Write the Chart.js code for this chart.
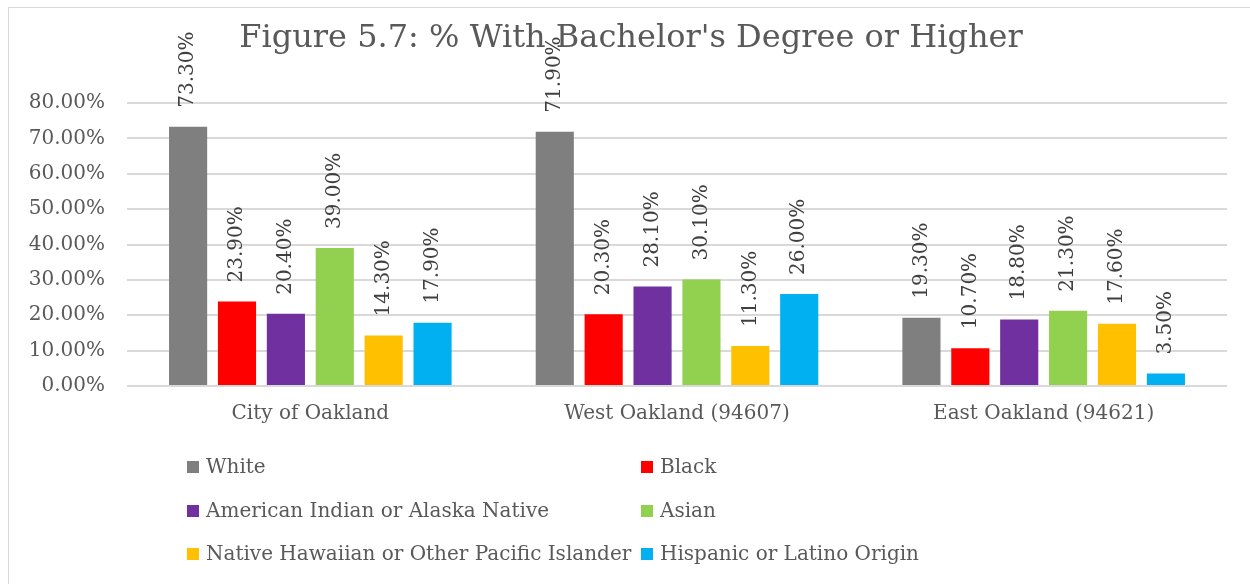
<!DOCTYPE html>
<html>
<head>
<meta charset="utf-8">
<script src="https://cdn.jsdelivr.net/npm/chart.js@4.4.1/dist/chart.umd.min.js"></script>
<style>
  html, body { margin: 0; padding: 0; background: #fff; }
  #wrap { position: relative; width: 1250px; height: 584px; }
  #frame {
    position: absolute; left: 8px; top: 7px; right: 0; bottom: 0;
    border-left: 1px solid #d9d9d9; border-top: 1px solid #d9d9d9;
    pointer-events: none;
  }
</style>
</head>
<body>
<div id="wrap">
  <canvas id="chart" width="1250" height="584"></canvas>
  <div id="frame"></div>
</div>
<script>
// Figure 5.7 — % with bachelor's degree or higher, by area and group
const titleText = "Figure 5.7: % With Bachelor's Degree or Higher";
const categories = ['City of Oakland', 'West Oakland (94607)', 'East Oakland (94621)'];
const groupNames = [
  'White',
  'Black',
  'American Indian or Alaska Native',
  'Asian',
  'Native Hawaiian or Other Pacific Islander',
  'Hispanic or Latino Origin',
];
const white    = [73.3, 71.9, 19.3];
const black    = [23.9, 20.3, 10.7];
const aian     = [20.4, 28.1, 18.8];
const asian    = [39.0, 30.1, 21.3];
const nhpi     = [14.3, 11.3, 17.6];
const hispanic = [17.9, 26.0, 3.5];
const yTicks   = [0, 10, 20, 30, 40, 50, 60, 70, 80];

const seriesValues = [white, black, aian, asian, nhpi, hispanic];
const seriesColors = ['#7f7f7f', '#ff0000', '#7030a0', '#92d050', '#ffc000', '#00b0f0'];

const FONT = "'DejaVu Serif', 'Liberation Serif', serif";
const TEXT = '#595959';

// Title sits over the whole frame, not the plot area
const frameTitle = {
  id: 'frameTitle',
  afterDraw(chart) {
    const { ctx } = chart;
    ctx.save();
    ctx.font = '32px ' + FONT;
    ctx.fillStyle = TEXT;
    ctx.textAlign = 'center';
    ctx.textBaseline = 'middle';
    ctx.fillText(titleText, 631, 39);
    ctx.restore();
  },
};

// Rotated value labels above each bar
const barLabels = {
  id: 'barLabels',
  afterDatasetsDraw(chart) {
    const { ctx } = chart;
    ctx.save();
    ctx.font = '20px ' + FONT;
    ctx.fillStyle = '#404040';
    ctx.textAlign = 'left';
    ctx.textBaseline = 'middle';
    chart.data.datasets.forEach((ds, i) => {
      chart.getDatasetMeta(i).data.forEach((bar, j) => {
        ctx.save();
        ctx.translate(bar.x, bar.y - 19);
        ctx.rotate(-Math.PI / 2);
        ctx.fillText(ds.data[j].toFixed(2) + '%', 0, 0);
        ctx.restore();
      });
    });
    ctx.restore();
  },
};

// Two-column legend under the axis
const gridLegend = {
  id: 'gridLegend',
  afterDraw(chart) {
    const { ctx } = chart;
    const colX = [187, 641];
    const rowY = [467, 511, 554];
    ctx.save();
    ctx.font = '20px ' + FONT;
    ctx.textBaseline = 'middle';
    ctx.textAlign = 'left';
    chart.data.datasets.forEach((ds, i) => {
      const x = colX[i % 2];
      const y = rowY[Math.floor(i / 2)];
      ctx.fillStyle = ds.backgroundColor;
      ctx.fillRect(x, y - 6, 12, 12);
      ctx.fillStyle = TEXT;
      ctx.fillText(ds.label, x + 19, y + 1);
    });
    ctx.restore();
  },
};

new Chart(document.getElementById('chart'), {
  type: 'bar',
  data: {
    labels: categories,
    datasets: groupNames.map((name, i) => ({
      label: name,
      data: seriesValues[i],
      backgroundColor: seriesColors[i],
      borderWidth: 0,
      categoryPercentage: 0.8,
      barPercentage: 0.78,
    })),
  },
  options: {
    responsive: false,
    animation: false,
    layout: { padding: { left: 10, right: 23, top: 103, bottom: 148 } },
    scales: {
      x: {
        grid: { display: false, drawTicks: false },
        border: { display: false },
        ticks: { color: TEXT, font: { family: FONT, size: 20 }, padding: 16 },
        afterFit(s) { s.height = 50; },
      },
      y: {
        min: 0,
        max: 80,
        afterBuildTicks(s) { s.ticks = yTicks.map(v => ({ value: v })); },
        grid: { color: '#d9d9d9', lineWidth: 2, drawTicks: false },
        border: { display: false },
        ticks: {
          color: TEXT,
          font: { family: FONT, size: 20 },
          padding: 22,
          callback: v => v.toFixed(2) + '%',
        },
        afterFit(s) { s.width = 117; },
      },
    },
    plugins: {
      legend: { display: false },
      tooltip: { enabled: false },
      title: { display: false },
    },
  },
  plugins: [barLabels, gridLegend, frameTitle],
});
</script>
</body>
</html>
